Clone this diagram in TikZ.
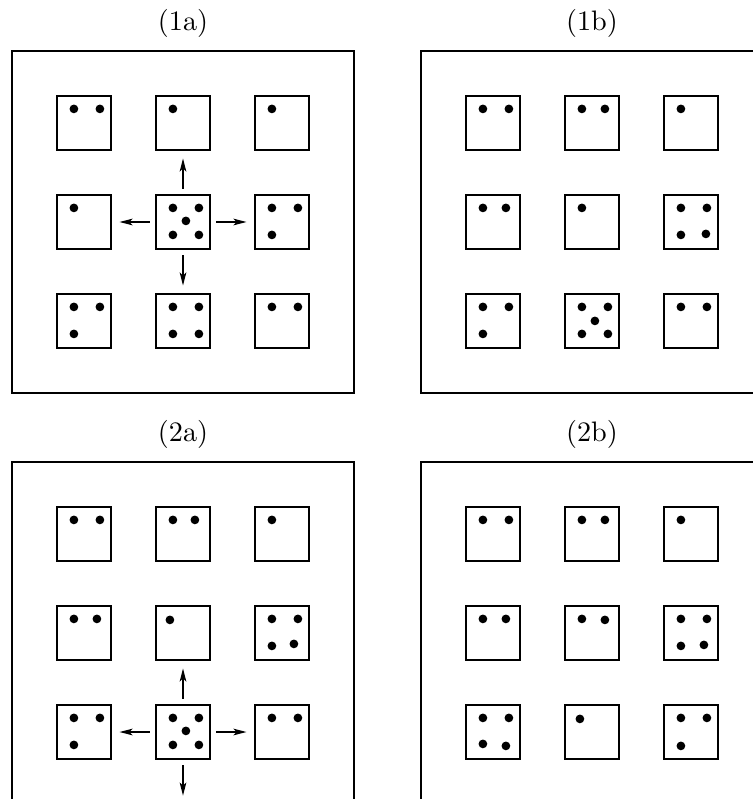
\documentclass[tikz,border=0pt]{standalone}
\usetikzlibrary{arrows.meta,positioning}

% pips of one cell, offsets from its north west corner
\newcommand{\pips}[2]{\foreach \u/\v in {#2} \fill ([shift={(\u,\v)}]#1.north west) circle (1.55pt);}

\begin{document}
\begin{tikzpicture}[x=0.355pt, y=-0.355pt,
  frame/.style={draw, line width=0.4pt, minimum size=121.4pt, inner sep=0pt},
  cell/.style={draw, line width=0.75pt, minimum size=19.2pt, inner sep=0pt},
  flow/.style={-{Stealth[length=4.6pt,width=2.3pt,inset=1pt]}, line width=0.7pt, shorten <=1.8pt, shorten >=2.6pt}]
\useasboundingbox (0,0) rectangle (753,799);
\clip (0,0) rectangle (753,799);

% (1a)
\node[frame] (fA) at (183,222) {};
\node[above=1.2pt of fA] (tA) {(1a)};
\node[cell] (A11) at (84,123) {};
\node[cell] (A12) at (183,123) {};
\node[cell] (A13) at (282,123) {};
\node[cell] (A21) at (84,222) {};
\node[cell] (A22) at (183,222) {};
\node[cell] (A23) at (282,222) {};
\node[cell] (A31) at (84,321) {};
\node[cell] (A32) at (183,321) {};
\node[cell] (A33) at (282,321) {};
\pips{A11}{18/14,44/14}
\pips{A12}{18/14}
\pips{A13}{18/14}
\pips{A21}{18/14}
\pips{A22}{18/14,44/14,31/27,18/41,44/41}
\pips{A23}{18/14,44/14,18/41}
\pips{A31}{18/14,44/14,18/41}
\pips{A32}{18/14,44/14,18/41,44/41}
\pips{A33}{18/14,44/14}
\draw[flow] (A22) -- (A12);
\draw[flow] (A22) -- (A21);
\draw[flow] (A22) -- (A23);
\draw[flow] (A22) -- (A32);

% (1b)
\node[frame] (fB) at (592,222) {};
\node[above=1.2pt of fB] (tB) {(1b)};
\node[cell] (B11) at (493,123) {};
\node[cell] (B12) at (592,123) {};
\node[cell] (B13) at (691,123) {};
\node[cell] (B21) at (493,222) {};
\node[cell] (B22) at (592,222) {};
\node[cell] (B23) at (691,222) {};
\node[cell] (B31) at (493,321) {};
\node[cell] (B32) at (592,321) {};
\node[cell] (B33) at (691,321) {};
\pips{B11}{18/14,44/14}
\pips{B12}{18/14,41/14}
\pips{B13}{18/14}
\pips{B21}{18/14,41/14}
\pips{B22}{18/14}
\pips{B23}{18/14,44/14,18/41,43/40}
\pips{B31}{18/14,44/14,18/41}
\pips{B32}{18/14,44/14,31/28,18/41,44/41}
\pips{B33}{18/14,44/14}

% (2a)
\node[frame] (fC) at (183,633) {};
\node[above=1.2pt of fC] (tC) {(2a)};
\node[cell] (C11) at (84,534) {};
\node[cell] (C12) at (183,534) {};
\node[cell] (C13) at (282,534) {};
\node[cell] (C21) at (84,633) {};
\node[cell] (C22) at (183,633) {};
\node[cell] (C23) at (282,633) {};
\node[cell] (C31) at (84,732) {};
\node[cell] (C32) at (183,732) {};
\node[cell] (C33) at (282,732) {};
\coordinate (C42) at (183,803);
\pips{C11}{18/14,44/14}
\pips{C12}{18/14,40/14}
\pips{C13}{18/14}
\pips{C21}{18/14,41/14}
\pips{C22}{15/15}
\pips{C23}{18/14,44/14,18/41,40/39}
\pips{C31}{18/14,44/14,18/41}
\pips{C32}{18/14,44/14,31/27,18/41,44/41}
\pips{C33}{18/14,44/14}
\draw[flow] (C32) -- (C22);
\draw[flow] (C32) -- (C31);
\draw[flow] (C32) -- (C33);
\draw[flow] (C32) -- (C42);

% (2b)
\node[frame] (fD) at (592,633) {};
\node[above=1.2pt of fD] (tD) {(2b)};
\node[cell] (D11) at (493,534) {};
\node[cell] (D12) at (592,534) {};
\node[cell] (D13) at (691,534) {};
\node[cell] (D21) at (493,633) {};
\node[cell] (D22) at (592,633) {};
\node[cell] (D23) at (691,633) {};
\node[cell] (D31) at (493,732) {};
\node[cell] (D32) at (592,732) {};
\node[cell] (D33) at (691,732) {};
\pips{D11}{18/14,44/14}
\pips{D12}{18/14,41/14}
\pips{D13}{18/14}
\pips{D21}{18/14,41/14}
\pips{D22}{18/14,41/15}
\pips{D23}{18/14,44/14,18/41,41/40}
\pips{D31}{18/14,44/14,18/40,41/42}
\pips{D32}{16/15}
\pips{D33}{18/14,44/14,18/42}
\end{tikzpicture}
\end{document}
